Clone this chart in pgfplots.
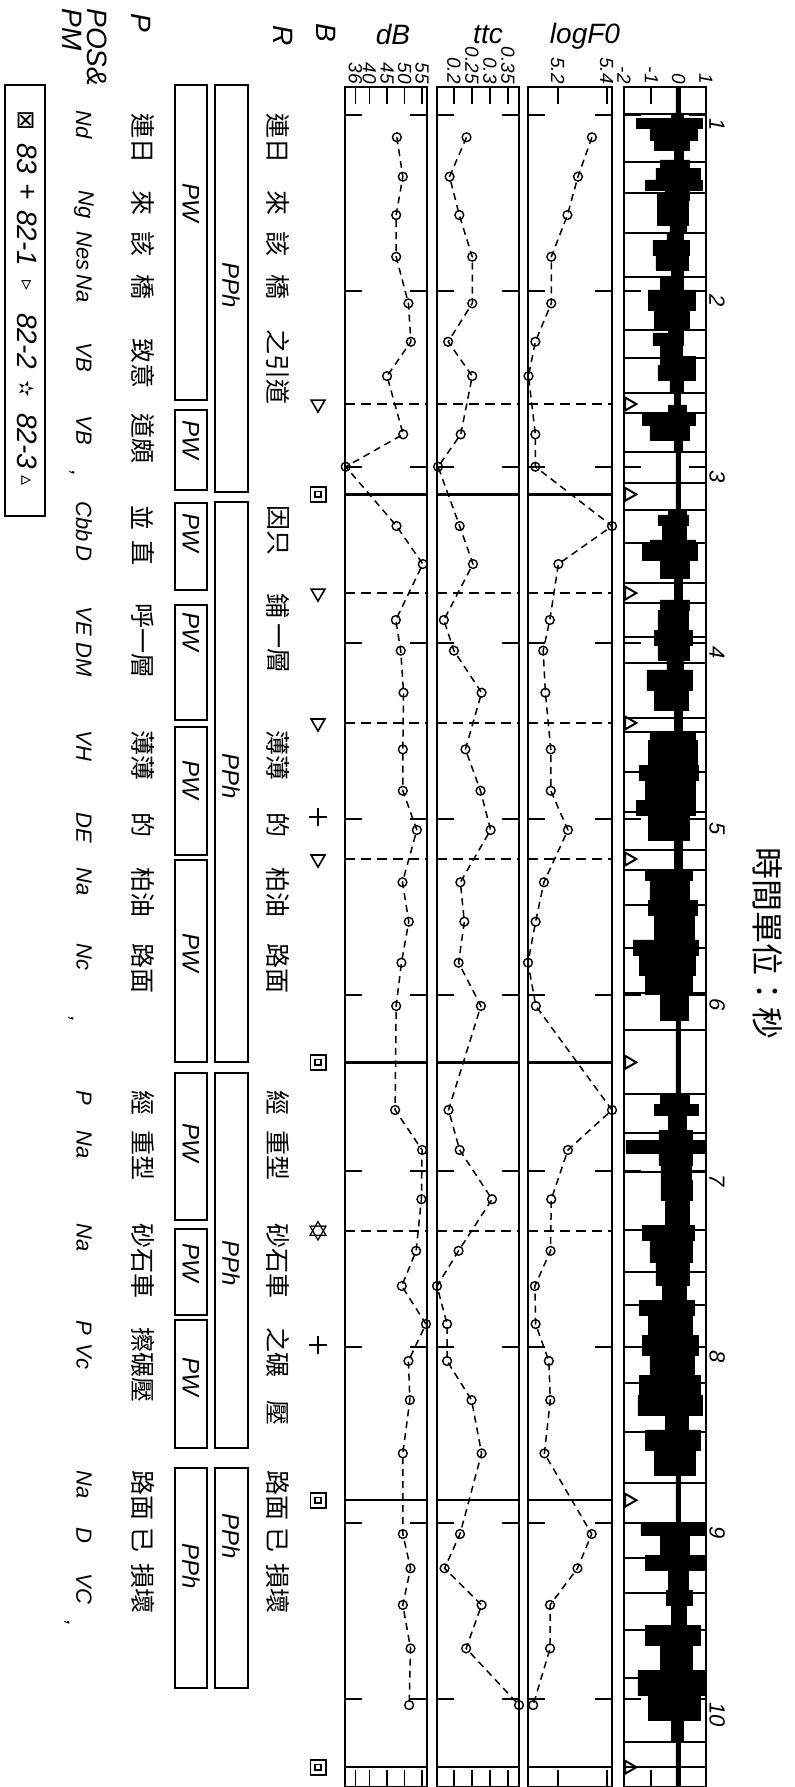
\documentclass[border=0pt]{standalone}
\usepackage{fontspec}
\setmainfont{Liberation Sans}
\newfontfamily\cjk{Noto Sans CJK TC}
\newfontfamily\sym{DejaVu Sans}
\usepackage{pgfplots}
\pgfplotsset{compat=1.18}
\usepackage{pgfplotstable}
\usepgfplotslibrary{fillbetween}

\pgfplotstableread{
t dB ttc F0
1.128 47.8 0.235 5.340
1.352 49.5 0.188 5.283
1.570 47.6 0.215 5.240
1.807 47.6 0.251 5.174
2.072 51.1 0.251 5.174
2.290 51.8 0.184 5.109
2.485 45.0 0.251 5.081
2.816 49.6 0.219 5.109
3.000 33.2 0.156 5.109
3.337 47.7 0.216 5.422
3.553 55.2 0.253 5.203
3.871 47.5 0.172 5.168
4.045 48.9 0.200 5.141
4.284 49.7 0.277 5.150
4.606 49.5 0.232 5.172
4.841 49.5 0.274 5.172
5.064 53.5 0.302 5.242
5.361 49.4 0.218 5.144
5.585 51.2 0.229 5.110
5.818 49.1 0.213 5.079
6.064 47.6 0.275 5.111
6.655 47.3 0.185 5.422
6.882 55.0 0.216 5.242
7.162 54.8 0.306 5.174
7.455 53.3 0.213 5.171
7.655 49.2 0.153 5.107
7.871 56.1 0.181 5.110
8.081 51.1 0.181 5.164
8.303 51.5 0.249 5.170
8.606 49.5 0.277 5.146
9.064 49.5 0.217 5.339
9.259 51.7 0.174 5.281
9.467 49.5 0.277 5.169
9.714 51.7 0.234 5.169
10.036 51.3 0.381 5.100
}\prosody

\pgfplotstableread{
t hi lo
0.843 0.08 -0.10
0.990 0.08 -0.10
1.019 0.19 -0.25
1.076 0.85 -1.53
1.144 0.67 -1.05
1.201 0.41 -0.87
1.257 0.16 -0.17
1.303 0.41 -0.68
1.371 0.78 -0.83
1.428 0.85 -1.23
1.451 0.41 -0.50
1.485 0.41 -0.79
1.627 0.34 -0.79
1.672 0.27 -0.32
1.712 0.19 -0.43
1.797 0.41 -0.94
1.882 0.34 -0.83
1.922 0.19 -0.25
1.996 0.16 -0.68
2.110 0.60 -1.12
2.212 0.41 -0.87
2.240 0.19 -0.39
2.309 0.16 -0.94
2.371 0.12 -0.68
2.422 0.60 -0.68
2.507 0.60 -0.76
2.581 0.19 -0.32
2.649 0.08 -0.14
2.695 0.27 -0.39
2.763 0.60 -1.34
2.848 0.41 -1.05
2.916 0.12 -0.17
2.962 0.08 -0.10
3.246 0.08 -0.10
3.274 0.27 -0.39
3.331 0.34 -0.76
3.416 0.27 -0.61
3.444 0.60 -1.05
3.530 0.67 -1.31
3.632 0.41 -0.68
3.672 0.12 -0.17
3.757 0.12 -0.17
3.814 0.41 -0.68
3.928 0.34 -0.76
4.013 0.49 -0.87
4.098 0.41 -0.76
4.155 0.16 -0.43
4.269 0.49 -1.16
4.382 0.34 -0.87
4.428 0.12 -0.17
4.507 0.12 -0.17
4.553 0.60 -1.05
4.695 0.67 -1.12
4.780 0.71 -1.42
4.894 0.63 -1.23
4.979 0.60 -1.53
5.121 0.41 -1.12
5.178 0.12 -0.17
5.292 0.12 -0.17
5.348 0.52 -1.23
5.462 0.41 -1.05
5.547 0.67 -1.12
5.689 0.56 -0.87
5.774 0.71 -1.67
5.888 0.63 -1.42
6.001 0.52 -1.23
6.144 0.34 -0.68
6.183 0.08 -0.10
6.570 0.08 -0.10
6.626 0.41 -0.68
6.683 0.74 -0.90
6.769 0.27 -0.39
6.826 0.52 -0.72
6.899 0.93 -1.93
6.968 0.52 -0.72
7.053 0.45 -0.65
7.167 0.52 -0.65
7.309 0.41 -0.50
7.394 0.56 -1.31
7.519 0.49 -1.05
7.650 0.38 -0.83
7.735 0.27 -0.61
7.820 0.56 -1.42
7.934 0.49 -1.12
8.047 0.71 -1.31
8.161 0.56 -1.05
8.275 0.78 -1.42
8.388 0.85 -1.49
8.473 0.34 -0.50
8.587 0.78 -1.20
8.729 0.60 -0.87
8.775 0.08 -0.10
9.002 0.08 -0.10
9.070 0.96 -1.38
9.184 0.41 -0.68
9.269 0.96 -1.20
9.383 0.34 -0.39
9.468 0.49 -0.46
9.582 0.27 -0.25
9.695 0.78 -1.20
9.837 0.49 -0.68
9.979 0.96 -1.49
10.121 0.78 -1.12
10.235 0.19 -0.25
10.500 0.08 -0.10
}\wave

\pgfplotsset{
  panel/.style={
    scale only axis, anchor=north west, height=849.85pt,
    ymin=0.8426, ymax=10.5, y dir=reverse,
    axis line style={line width=1pt},
    tick align=inside, xtick pos=both, ytick pos=both,
    xticklabel pos=upper,
    major tick length=8.5pt,
    tick style={black, line width=0.9pt},
    ytick={1,2,3,4,5,6,7,8,9,10}, yticklabels={},
    xticklabel style={rotate=-90, anchor=east, font=\fontsize{9.5}{10}\selectfont\itshape, inner sep=1.5pt},
    clip=false,
  },
  series/.style={black, line width=0.75pt, dash pattern=on 3.5pt off 2.5pt,
    mark=o, mark size=2.2pt, mark options={solid, line width=0.7pt}},
}

\newcommand{\rt}[4][]{\node[rotate=-90, anchor=west, inner sep=0pt, #1] at (#2,#3) {#4};}

\begin{document}
\begin{tikzpicture}
% ---------- dB ----------
\begin{axis}[panel, at={(172.5pt,-43.5pt)}, width=41pt, xmin=33, xmax=56.4,
  xtick={36,40,45,50,55}, xticklabels={36,40,45,50,55}]
\addplot[series] table[x=dB, y=t] {\prosody};
\pgfplotsinvokeforeach{2.644,3.718,4.456,5.229,7.343}{\draw[line width=0.8pt, dash pattern=on 5pt off 3pt] (axis cs:33,#1) -- (axis cs:56.4,#1);}
\pgfplotsinvokeforeach{3.157,6.384,8.872,10.389}{\draw[line width=1.2pt] (axis cs:33,#1) -- (axis cs:56.4,#1);}
% break markers (column B)
\addplot[only marks, mark=triangle, mark size=4pt, mark options={rotate=180, line width=0.8pt}]
  coordinates {(25.3,2.644) (25.3,3.718) (25.3,4.456) (25.3,5.229)};
\addplot[only marks, mark=+, mark size=4.5pt, mark options={line width=0.9pt}]
  coordinates {(25.3,4.99) (25.3,7.99)};
\addplot[only marks, mark=square, mark size=3.8pt, mark options={line width=0.9pt}]
  coordinates {(25.3,3.157) (25.3,6.384) (25.3,8.872) (25.3,10.389)};
\addplot[only marks, mark=square, mark size=1.4pt, mark options={line width=0.8pt}]
  coordinates {(25.3,3.157) (25.3,6.384) (25.3,8.872) (25.3,10.389)};
\addplot[only marks, mark=text, text mark={\sym\fontsize{14}{14}\selectfont ✡}]
  coordinates {(25.3,7.343)};
\end{axis}
% ---------- ttc ----------
\begin{axis}[panel, at={(218.5pt,-43.5pt)}, width=41pt, xmin=0.153, xmax=0.381,
  xtick={0.2,0.25,0.3,0.35}, xticklabels={0.2,0.25,0.3,0.35}]
\addplot[series] table[x=ttc, y=t] {\prosody};
\pgfplotsinvokeforeach{2.644,3.718,4.456,5.229,7.343}{\draw[line width=0.8pt, dash pattern=on 5pt off 3pt] (axis cs:0.153,#1) -- (axis cs:0.381,#1);}
\pgfplotsinvokeforeach{3.157,6.384,8.872,10.389}{\draw[line width=1.2pt] (axis cs:0.153,#1) -- (axis cs:0.381,#1);}
\end{axis}
% ---------- logF0 ----------
\begin{axis}[panel, at={(264pt,-43.5pt)}, width=42pt, xmin=5.079, xmax=5.422,
  xtick={5.2,5.4}, xticklabels={5.2,5.4}]
\addplot[series] table[x=F0, y=t] {\prosody};
\pgfplotsinvokeforeach{2.644,3.718,4.456,5.229,7.343}{\draw[line width=0.8pt, dash pattern=on 5pt off 3pt] (axis cs:5.079,#1) -- (axis cs:5.422,#1);}
\pgfplotsinvokeforeach{3.157,6.384,8.872,10.389}{\draw[line width=1.2pt] (axis cs:5.079,#1) -- (axis cs:5.422,#1);}
\end{axis}
% ---------- waveform ----------
\begin{axis}[panel, at={(312pt,-43.5pt)}, width=41pt, xmin=-2, xmax=1,
  xtick={-2,-1,0,1}, xticklabels={-2,-1,0,1},
  yticklabel pos=right, yticklabels={1,2,3,4,5,6,7,8,9,10},
  yticklabel style={rotate=-90, anchor=south west, font=\fontsize{11}{11}\selectfont\itshape, inner sep=1.5pt}]
\addplot[name path=hi, draw=black, line width=0.4pt, const plot] table[x=hi, y=t] {\wave};
\addplot[name path=lo, draw=black, line width=0.4pt, const plot] table[x=lo, y=t] {\wave};
\addplot[black] fill between[of=hi and lo];
\pgfplotsinvokeforeach{0.996,1.269,1.445,1.672,1.922,2.223,2.382,2.581,2.695,2.916,3.092,3.246,3.433,3.660,3.774,3.967,4.115,4.428,4.507,4.735,4.962,5.178,5.292,5.490,5.735,5.990,6.201,6.564,6.786,7.007,7.337,7.576,7.763,8.002,8.206,8.485,8.775,9.002,9.201,9.400,9.610,9.883,10.246,10.389}{\draw[line width=1.1pt] (axis cs:-2,#1) -- (axis cs:1,#1);}
\addplot[only marks, mark=triangle, mark size=3.7pt, mark options={rotate=-90, fill=white, line width=1pt}]
  coordinates {(-1.82,2.644) (-1.82,3.157) (-1.82,3.718) (-1.82,4.456) (-1.82,5.229) (-1.82,6.384) (-1.82,8.872) (-1.82,10.389)};
\end{axis}

% ---------- annotations ----------
\begin{scope}[x=0.5pt, y=-0.5pt,
  cj/.style={font=\cjk\fontsize{12.5}{12.5}\selectfont},
  ps/.style={font=\fontsize{11}{11}\selectfont\itshape},
  hd/.style={font=\fontsize{14}{14}\selectfont\itshape},
  bx/.style={font=\fontsize{12}{12}\selectfont\itshape},
  lg/.style={font=\fontsize{14}{14}\selectfont\itshape}]
% headers
\node[hd, anchor=base, inner sep=0pt] at (393,45) {dB};
\node[hd, anchor=base, inner sep=0pt] at (488,44) {ttc};
\node[hd, anchor=base, inner sep=0pt] at (585,44) {logF0};
\rt[hd]{326}{23}{B}
\rt[hd]{283}{25}{R}
\rt[hd]{141}{13}{P}
\rt[hd]{97}{8}{POS\&}
\rt[hd]{72}{8}{PM}
% title
\rt[font=\cjk\fontsize{16}{16}\selectfont]{768}{847}{時間單位：秒}
% R column
\rt[cj]{278}{113}{連日}
\rt[cj]{278}{190}{來}
\rt[cj]{278}{231}{該}
\rt[cj]{278}{274}{橋}
\rt[cj]{278}{329}{之引道}
\rt[cj]{278}{505}{因只}
\rt[cj]{278}{593}{鋪}
\rt[cj]{278}{623}{一層}
\rt[cj]{278}{730}{薄薄}
\rt[cj]{278}{812}{的}
\rt[cj]{278}{867}{柏油}
\rt[cj]{278}{943}{路面}
\rt[cj]{278}{1090}{經}
\rt[cj]{278}{1130}{重型}
\rt[cj]{278}{1223}{砂石車}
\rt[cj]{278}{1327}{之碾}
\rt[cj]{278}{1400}{壓}
\rt[cj]{278}{1470}{路面}
\rt[cj]{278}{1527}{已}
\rt[cj]{278}{1563}{損壞}
% P column
\rt[cj]{143}{113}{連日}
\rt[cj]{143}{190}{來}
\rt[cj]{143}{231}{該}
\rt[cj]{143}{274}{橋}
\rt[cj]{143}{338}{致意}
\rt[cj]{143}{413}{道頗}
\rt[cj]{143}{505}{並}
\rt[cj]{143}{540}{直}
\rt[cj]{143}{603}{呼一層}
\rt[cj]{143}{730}{薄薄}
\rt[cj]{143}{812}{的}
\rt[cj]{143}{867}{柏油}
\rt[cj]{143}{943}{路面}
\rt[cj]{143}{1090}{經}
\rt[cj]{143}{1130}{重型}
\rt[cj]{143}{1223}{砂石車}
\rt[cj]{143}{1327}{擦碾壓}
\rt[cj]{143}{1470}{路面}
\rt[cj]{143}{1527}{已}
\rt[cj]{143}{1563}{損壞}
% POS column
\rt[ps]{84}{110}{Nd}
\rt[ps]{84}{190}{Ng}
\rt[ps]{84}{231}{Nes}
\rt[ps]{84}{274}{Na}
\rt[ps]{84}{342}{VB}
\rt[ps]{84}{415}{VB}
\rt[ps]{84}{501}{Cbb}
\rt[ps]{84}{545}{D}
\rt[ps]{84}{606}{VE}
\rt[ps]{84}{642}{DM}
\rt[ps]{84}{730}{VH}
\rt[ps]{84}{812}{DE}
\rt[ps]{84}{867}{Na}
\rt[ps]{84}{943}{Nc}
\rt[ps]{84}{1090}{P}
\rt[ps]{84}{1130}{Na}
\rt[ps]{84}{1223}{Na}
\rt[ps]{84}{1320}{P}
\rt[ps]{84}{1343}{Vc}
\rt[ps]{84}{1470}{Na}
\rt[ps]{84}{1527}{D}
\rt[ps]{84}{1573}{VC}
\node[ps, rotate=-90, inner sep=0pt] at (72,474) {,};
\node[ps, rotate=-90, inner sep=0pt] at (71,1020) {,};
\node[ps, rotate=-90, inner sep=0pt] at (67,1624) {,};
% PW boxes
\foreach \a/\b in {85/400,410/490,503/590,605/720,727/855,860/1062,1073/1220,1229/1315,1320/1448,1468/1688}
  {\draw[line width=0.9pt] (175,\a) rectangle (207,\b);}
\foreach \y in {183,420,513,612,760,933,1123,1243,1357}
  {\rt[bx]{191}{\y}{PW}}
\rt[bx]{191}{1543}{PPh}
% PPh boxes
\foreach \a/\b in {85/492,502/1062,1073/1448,1468/1688}
  {\draw[line width=0.9pt] (215,\a) rectangle (248,\b);}
\foreach \y in {262,753,1240,1513}
  {\rt[bx]{231}{\y}{PPh}}
% legend
\draw[line width=0.9pt] (5,85) rectangle (45,516);
\rt[font=\sym\fontsize{12}{12}\selectfont]{26}{110}{⊠}
\rt[lg]{27}{143}{83}
\rt[lg]{27}{183}{+}
\rt[lg]{27}{210}{82-1}
\rt[font=\sym\fontsize{10}{10}\selectfont]{27}{280}{▹}
\rt[lg]{27}{313}{82-2}
\rt[font=\sym\fontsize{10}{10}\selectfont]{27}{380}{✫}
\rt[lg]{27}{413}{82-3}
\rt[font=\sym\fontsize{10}{10}\selectfont]{27}{475}{▵}
\end{scope}
\pgfresetboundingbox
\path[use as bounding box] (0pt,0pt) rectangle (397.5pt,-893.5pt);
\end{tikzpicture}
\end{document}
